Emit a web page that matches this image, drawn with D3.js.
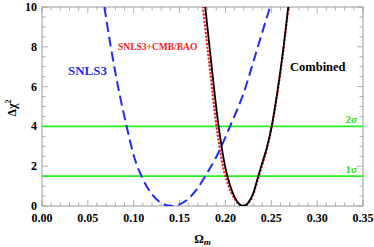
<!DOCTYPE html>
<html><head><meta charset="utf-8">
<script src="https://cdn.jsdelivr.net/npm/d3@7/dist/d3.min.js"></script>
<style>body{margin:0;background:#fff}svg{display:block}</style>
</head><body><svg id="c" width="374" height="247" font-family="'Liberation Serif', 'Times New Roman', serif" font-weight="bold"></svg>
<script>
// SNLS3 alone (blue dashed)
const snlsOm  = [0.068,0.075,0.085,0.0923,0.10,0.11,0.12,0.13,0.1414,0.15,0.16,0.17,0.18,0.19,0.205,0.22,0.235,0.2486];
const snlsChi = [10,8.0,5.52,4.0,2.54,1.35,0.58,0.155,0,0.084,0.38,0.92,1.66,2.46,4.0,5.7,7.95,10];
// SNLS3+CMB/BAO (red dotted)
const cmbOm  = [0.1755,0.1825,0.1903,0.1975,0.2035,0.2095,0.2148,0.2195,0.225,0.23,0.236,0.24,0.245,0.2506,0.256,0.262,0.2687];
const cmbChi = [10,7.1,4.0,1.95,1.0,0.4,0.09,0,0.15,0.55,1.45,2.05,2.85,4.0,5.45,7.4,10];
// Combined (black solid)
const combOm  = [0.178,0.185,0.1926,0.20,0.205,0.21,0.215,0.2195,0.225,0.23,0.2358,0.24,0.245,0.2504,0.256,0.262,0.2685];
const combChi = [10,7.0,4.0,1.91,1.04,0.45,0.1,0,0.17,0.6,1.5,2.14,2.9,4.0,5.55,7.5,10];
// confidence levels
const levelVals = [1.5,4];
const levelLabels = ["1σ","2σ"];
const xTicks = [0,0.05,0.10,0.15,0.20,0.25,0.30,0.35];
const yTicks = [0,2,4,6,8,10];

const W=374,H=247,m={l:42,r:11,t:7,b:41};
const svg=d3.select("#c");
const x=d3.scaleLinear().domain([0,0.35]).range([m.l,W-m.r]);
const y=d3.scaleLinear().domain([0,10]).range([H-m.b,m.t]);
const grey="#9a9a9a";

svg.append("clipPath").attr("id","clip").append("rect")
  .attr("x",m.l).attr("y",m.t).attr("width",W-m.l-m.r).attr("height",H-m.t-m.b);

svg.append("rect").attr("x",m.l).attr("y",m.t).attr("width",W-m.l-m.r).attr("height",H-m.t-m.b)
  .attr("fill","none").attr("stroke",grey).attr("stroke-width",1);

const xMinor=d3.range(0,0.3501,0.01), yMinor=d3.range(0,10.01,0.5);
const tg=svg.append("g").attr("stroke",grey).attr("stroke-width",0.8);
xMinor.forEach((v,i)=>{const maj=i%5===0;const L=maj?6:3.5;const px=x(v);
  tg.append("line").attr("x1",px).attr("x2",px).attr("y1",y(0)).attr("y2",y(0)-L);
  tg.append("line").attr("x1",px).attr("x2",px).attr("y1",y(10)).attr("y2",y(10)+L);});
yMinor.forEach((v,i)=>{const maj=i%4===0;const L=maj?6:3.5;const py=y(v);
  tg.append("line").attr("x1",x(0)).attr("x2",x(0)+L).attr("y1",py).attr("y2",py);
  tg.append("line").attr("x1",x(0.35)).attr("x2",x(0.35)-L).attr("y1",py).attr("y2",py);});

svg.append("g").selectAll("text").data(xTicks).join("text")
  .attr("x",d=>x(d)).attr("y",y(0)+16).attr("text-anchor","middle").attr("font-size",12)
  .text(d=>d.toFixed(2));
svg.append("g").selectAll("text").data(yTicks).join("text")
  .attr("x",m.l-5).attr("y",d=>y(d)+4).attr("text-anchor","end").attr("font-size",12)
  .text(d=>d);

const xt=svg.append("text").attr("x",x(0.175)).attr("y",243).attr("text-anchor","middle").attr("font-size",12);
xt.append("tspan").text("Ω");
xt.append("tspan").attr("font-style","italic").attr("font-size",9).attr("dy",2).text("m");
const yt=svg.append("text").attr("transform","translate(16,108) rotate(-90)").attr("text-anchor","middle").attr("font-size",12);
yt.append("tspan").text("Δχ");
yt.append("tspan").attr("font-size",8).attr("dy",-5).text("2");

const plot=svg.append("g").attr("clip-path","url(#clip)");
levelVals.forEach((v,i)=>{
  plot.append("line").attr("x1",m.l).attr("x2",W-m.r).attr("y1",y(v)).attr("y2",y(v))
    .attr("stroke","#22ee22").attr("stroke-width",1.6);
  const t=svg.append("text").attr("x",357).attr("y",y(v)-3).attr("text-anchor","end")
    .attr("font-size",11).attr("fill","#22dd22");
  t.append("tspan").text(levelLabels[i][0]);
  t.append("tspan").attr("font-style","italic").text(levelLabels[i].slice(1));
});

const line=d3.line().curve(d3.curveMonotoneX).x(d=>x(d[0])).y(d=>y(d[1]));
const z=(a,b)=>a.map((v,i)=>[v,b[i]]);
plot.append("path").attr("d",line(z(snlsOm,snlsChi))).attr("fill","none")
  .attr("stroke","#1e2cf0").attr("stroke-width",2).attr("stroke-dasharray","10,5");
plot.append("path").attr("d",line(z(cmbOm,cmbChi))).attr("fill","none")
  .attr("stroke","#ff1a1a").attr("stroke-width",2.4).attr("stroke-linecap","round").attr("stroke-dasharray","0.1,3.6");
plot.append("path").attr("d",line(z(combOm,combChi))).attr("fill","none")
  .attr("stroke","#000").attr("stroke-width",1.8);

svg.append("text").attr("x",68).attr("y",75).attr("font-size",13).attr("fill","#1e2cf0").text("SNLS3");
svg.append("text").attr("x",118).attr("y",50).attr("font-size",9.5).attr("fill","#ff1a1a").text("SNLS3+CMB/BAO");
svg.append("text").attr("x",290).attr("y",71).attr("font-size",12.5).attr("fill","#000").text("Combined");
</script></body></html>
